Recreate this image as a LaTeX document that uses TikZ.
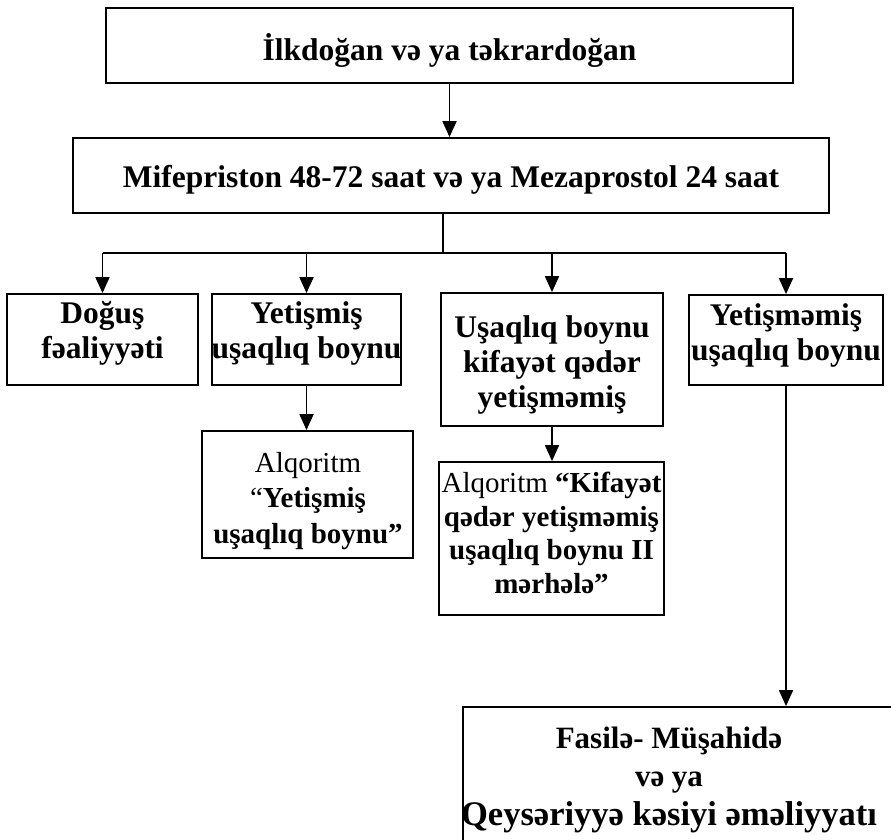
\documentclass[tikz,border=0pt]{standalone}
\usepackage{fontspec}
\setmainfont{Liberation Serif}
\usetikzlibrary{arrows.meta}
\tikzset{
  box/.style={draw, line width=1.8pt, inner sep=0pt},
  txt/.style={align=center, inner sep=0pt, anchor=base, font=\fontsize{31.5}{35}\selectfont\bfseries},
  ln/.style={line width=1.8pt},
  arr/.style={line width=1.8pt, -{Triangle[length=16pt,width=14pt]}},
}
\begin{document}
\begin{tikzpicture}[x=1pt,y=-1pt]
\useasboundingbox (0,0) rectangle (891,840);
% boxes
\node[box, minimum width=687pt, minimum height=75pt] (top) at (449.5,45.5) {};
\node[box, minimum width=756pt, minimum height=75pt] (second) at (451,175.5) {};
\node[box, minimum width=191pt, minimum height=91pt] (b1) at (102.5,339.5) {};
\node[box, minimum width=189pt, minimum height=91pt] (b2) at (306.5,339.5) {};
\node[box, minimum width=222pt, minimum height=133pt] (b3) at (552,359.5) {};
\node[box, minimum width=194pt, minimum height=90pt] (b4) at (786,340) {};
\node[box, minimum width=211pt, minimum height=127pt] (a1) at (307.5,494.5) {};
\node[box, minimum width=225pt, minimum height=153pt] (a2) at (551.5,538.5) {};
\begin{scope}
\clip (0,0) rectangle (891,840);
\node[box, minimum width=440pt, minimum height=180pt] (bot) at (683,797) {};
\end{scope}
% texts (anchor=base is the baseline of the last line)
\node[txt] (ttop) at (449.5,61) {İlkdoğan və ya təkrardoğan};
\node[txt] (tsecond) at (451,187) {Mifepriston 48-72 saat və ya Mezaprostol 24 saat};
\node[txt] (tb1) at (102.5,358) {Doğuş\\fəaliyyəti};
\node[txt] (tb2) at (306.5,358) {Yetişmiş\\uşaqlıq boynu};
\node[txt] (tb3) at (552,407) {Uşaqlıq boynu\\kifayət qədər\\yetişməmiş};
\node[txt] (tb4) at (786,360) {Yetişməmiş\\uşaqlıq boynu};
\node[txt, font=\fontsize{29}{35.5}\selectfont\bfseries] (ta1) at (308,543) {\mdseries Alqoritm\\\mdseries “\bfseries Yetişmiş\\uşaqlıq boynu”};
\node[txt, font=\fontsize{29}{33.5}\selectfont\bfseries] (ta2) at (551.5,593) {\mdseries Alqoritm \bfseries“Kifayət\\qədər yetişməmiş\\uşaqlıq boynu II\\mərhələ”};
\node[txt, font=\fontsize{31}{38.5}\selectfont\bfseries] (tbot) at (669,825) {Fasilə- Müşahidə\\və ya\\\fontsize{34.5}{38.5}\selectfont Qeysəriyyə kəsiyi əməliyyatı};
% connectors
\coordinate (split) at (443,253);
\draw[arr] (top.south) -- (top.south |- second.north);
\draw[ln] (second.south -| split) -- (split);
\draw[ln] (split -| b1.north) -- (split -| b4.north);
\draw[arr] (split -| b1.north) -- (b1.north);
\draw[arr] (split -| b2.north) -- (b2.north);
\draw[arr] (split -| b3.north) -- (b3.north);
\draw[arr] (split -| b4.north) -- (b4.north);
\draw[arr] (b2.south) -- (b2.south |- a1.north);
\draw[arr] (b3.south) -- (b3.south |- a2.north);
\draw[arr] (b4.south) -- (b4.south |- bot.north);
\end{tikzpicture}
\end{document}
